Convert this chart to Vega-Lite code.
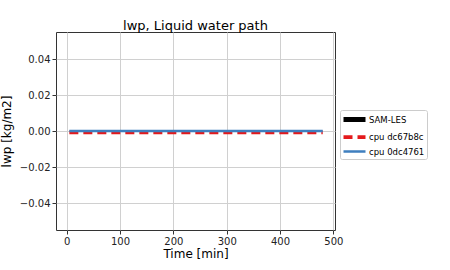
{
  "$schema": "https://vega.github.io/schema/vega-lite/v6.json",
  "width": 279,
  "height": 198,
  "autosize": {"type": "none"},
  "padding": {"left": 56, "top": 32, "right": 115, "bottom": 40},
  "background": "white",
  "title": {"text": "lwp, Liquid water path", "fontSize": 13, "font": "DejaVu Sans", "fontWeight": "normal", "color": "black", "offset": -1},
  "config": {
    "font": "DejaVu Sans",
    "view": {"stroke": "#333333", "strokeWidth": 1}
  },
  "data": {
    "values": [
      {"t": 5, "lwp": -0.0007, "series": "cpu dc67b8c"},
      {"t": 120, "lwp": -0.0007, "series": "cpu dc67b8c"},
      {"t": 240, "lwp": -0.0007, "series": "cpu dc67b8c"},
      {"t": 360, "lwp": -0.0007, "series": "cpu dc67b8c"},
      {"t": 480, "lwp": -0.0007, "series": "cpu dc67b8c"},
      {"t": 5, "lwp": 0.0, "series": "cpu 0dc4761"},
      {"t": 120, "lwp": 0.0, "series": "cpu 0dc4761"},
      {"t": 240, "lwp": 0.0, "series": "cpu 0dc4761"},
      {"t": 360, "lwp": 0.0, "series": "cpu 0dc4761"},
      {"t": 480, "lwp": 0.0, "series": "cpu 0dc4761"}
    ]
  },
  "mark": {"type": "line", "clip": true},
  "encoding": {
    "x": {
      "field": "t", "type": "quantitative",
      "scale": {"domain": [-20, 503], "nice": false, "zero": false},
      "axis": {"title": "Time [min]", "titleFontSize": 12, "titleFontWeight": "normal", "titleColor": "black", "labelFontSize": 10, "labelColor": "#222222", "values": [0, 100, 200, 300, 400, 500], "tickColor": "#333333", "tickSize": 4, "domain": false, "gridColor": "#d0d0d0", "labelPadding": 2, "titlePadding": 2}
    },
    "y": {
      "field": "lwp", "type": "quantitative",
      "scale": {"domain": [-0.055, 0.055], "nice": false, "zero": false},
      "axis": {"title": "lwp [kg/m2]", "titleFontSize": 12, "titleFontWeight": "normal", "titleColor": "black", "labelFontSize": 10, "labelColor": "#222222", "values": [-0.04, -0.02, 0, 0.02, 0.04], "format": ".2f", "tickColor": "#333333", "tickSize": 4, "domain": false, "gridColor": "#d0d0d0", "labelPadding": 2, "titlePadding": 6}
    },
    "color": {
      "field": "series", "type": "nominal",
      "scale": {"domain": ["SAM-LES", "cpu dc67b8c", "cpu 0dc4761"], "range": ["black", "#e41a1c", "#3f7fbf"]},
      "legend": {"title": null, "orient": "none", "legendX": 284, "legendY": 78, "symbolType": "M-2.2,0L2.2,0", "labelFontSize": 8.5, "labelColor": "black", "symbolSize": 100, "symbolOffset": 5, "fillColor": "white", "strokeColor": "#cccccc", "padding": 2, "cornerRadius": 2, "rowPadding": -7, "labelOffset": 7}
    },
    "strokeDash": {
      "field": "series", "type": "nominal",
      "scale": {"domain": ["SAM-LES", "cpu dc67b8c", "cpu 0dc4761"], "range": [[1, 0], [9, 5], [1, 0]]},
      "legend": null
    },
    "strokeWidth": {
      "field": "series", "type": "nominal",
      "scale": {"domain": ["SAM-LES", "cpu dc67b8c", "cpu 0dc4761"], "range": [5, 2.5, 2.5]},
      "legend": null
    }
  }
}
